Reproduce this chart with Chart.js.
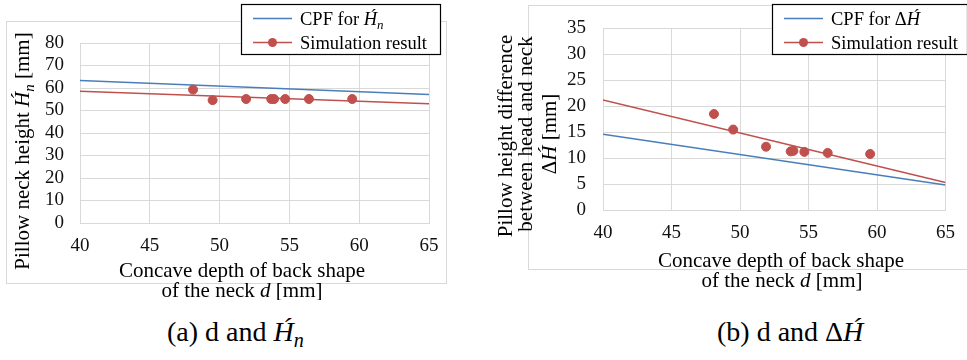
<!DOCTYPE html>
<html>
<head>
<meta charset="utf-8">
<script src="https://cdn.jsdelivr.net/npm/chart.js@4.4.1/dist/chart.umd.min.js"></script>
<style>
  body { margin: 0; background: #fff; }
  #page { position: relative; width: 967px; height: 360px; overflow: hidden; background: #fff; }
  canvas { position: absolute; top: 0; }
  #chart-a { left: 0; }
  #chart-b { left: 480px; }
  .cap { position: absolute; top: 318px; font: 28px "Liberation Serif", "Times New Roman", serif; line-height: 28px; white-space: nowrap; color: #000; }
  .cap sub { font-size: 0.72em; vertical-align: -0.28em; line-height: 0; }
</style>
</head>
<body>
<div id="page">
  <canvas id="chart-a" width="480" height="300"></canvas>
  <canvas id="chart-b" width="487" height="300"></canvas>
  <div class="cap" style="left:167px">(a) d and <i>H&#x301;<sub>n</sub></i></div>
  <div class="cap" style="left:717px">(b) d and &Delta;<i>H&#x301;</i></div>
</div>
<script>
// depth d [mm] of the simulated pillows (shared by both plots)
const depth = [48.1, 49.5, 51.9, 53.7, 53.9, 54.7, 56.4, 59.5];
// (a) pillow neck height
const neckHeightSim = [59.3, 54.6, 55.1, 55.1, 55.1, 55.1, 55.1, 55.1];
// (b) height difference between head and neck
const diffSim = [18.5, 15.5, 12.2, 11.3, 11.4, 11.2, 11.0, 10.8];

// straight lines are given by their values at both ends of the x range
const lineEnds = [40, 65];
const neckHeightCpf = [63.3, 57.1];
const neckHeightTrend = [58.6, 53.0];
const diffCpf = [14.6, 4.8];
const diffTrend = [21.2, 5.3];

const xTicks = [40, 45, 50, 55, 60, 65];
const yTicksA = [0, 10, 20, 30, 40, 50, 60, 70, 80];
const yTicksB = [0, 5, 10, 15, 20, 25, 30, 35];

const BLUE = '#4a7ebb';
const RED = '#c0504d';
const GRID = '#d9d9d9';
const SERIF = '"Liberation Serif", "Times New Roman", serif';

function font(size, italic) {
    return (italic ? 'italic ' : '') + size + 'px ' + SERIF;
}

function toPoints(xs, ys) {
    return xs.map((x, i) => ({ x: x, y: ys[i] }));
}

// draw a row of text pieces with different fonts (used for math symbols)
function drawRuns(ctx, runs, x, y, rot, align) {
    ctx.save();
    ctx.translate(x, y);
    ctx.rotate(rot || 0);
    ctx.textBaseline = 'alphabetic';
    ctx.textAlign = 'left';
    ctx.fillStyle = '#000';
    let total = 0;
    runs.forEach(r => {
        ctx.font = r.font;
        r.w = ctx.measureText(r.text).width;
        total += r.w;
    });
    let px = align === 'left' ? 0 : -total / 2;
    runs.forEach(r => {
        ctx.font = r.font;
        ctx.fillText(r.text, px, r.dy || 0);
        px += r.w;
    });
    ctx.restore();
}

function decorPlugin(o) {
    return {
        id: 'decor',
        beforeDraw(chart) {
            const ctx = chart.ctx;
            ctx.save();
            ctx.fillStyle = '#fff';
            ctx.fillRect(0, 0, chart.width, chart.height);
            ctx.strokeStyle = GRID;
            ctx.lineWidth = 1;
            ctx.strokeRect(o.frame[0] + 0.5, o.frame[1] + 0.5, o.frame[2], o.frame[3]);
            ctx.restore();
        },
        afterDraw(chart) {
            const ctx = chart.ctx;
            // axis titles
            o.xTitle.forEach(t => drawRuns(ctx, t.runs, t.x, t.y, 0));
            o.yTitle.forEach(t => drawRuns(ctx, t.runs, t.x, t.y, -Math.PI / 2));

            // legend box
            const lg = o.legend;
            ctx.save();
            ctx.fillStyle = '#fff';
            ctx.fillRect(lg.x, lg.y, lg.w, lg.h);
            ctx.strokeStyle = '#000';
            ctx.lineWidth = 1.2;
            ctx.strokeRect(lg.x + 0.5, lg.y + 0.5, lg.w, lg.h);
            ctx.lineWidth = 1.5;
            ctx.strokeStyle = BLUE;
            ctx.beginPath();
            ctx.moveTo(lg.x + 12, lg.y + 14.5);
            ctx.lineTo(lg.x + 51, lg.y + 14.5);
            ctx.stroke();
            ctx.strokeStyle = RED;
            ctx.beginPath();
            ctx.moveTo(lg.x + 12, lg.y + 38.5);
            ctx.lineTo(lg.x + 51, lg.y + 38.5);
            ctx.stroke();
            ctx.fillStyle = RED;
            ctx.beginPath();
            ctx.arc(lg.x + 31.5, lg.y + 38.5, 4.5, 0, Math.PI * 2);
            ctx.fill();
            ctx.restore();
            drawRuns(ctx, lg.cpf, lg.x + 59, lg.y + 21, 0, 'left');
            drawRuns(ctx, [{ text: 'Simulation result', font: font(18.5) }], lg.x + 59, lg.y + 45, 0, 'left');
        }
    };
}

function buildChart(id, o) {
    const ctx = document.getElementById(id).getContext('2d');
    const tickFont = { family: SERIF, size: 19 };
    return new Chart(ctx, {
        type: 'scatter',
        data: {
            datasets: [{
                label: 'Simulation result',
                data: toPoints(depth, o.sim),
                backgroundColor: RED,
                borderColor: RED,
                pointRadius: 4.5,
                pointHoverRadius: 4.5
            }, {
                label: 'Simulation trend',
                data: toPoints(lineEnds, o.trend),
                showLine: true,
                borderColor: RED,
                borderWidth: 1.5,
                pointRadius: 0
            }, {
                label: 'CPF',
                data: toPoints(lineEnds, o.cpf),
                showLine: true,
                borderColor: BLUE,
                borderWidth: 1.5,
                pointRadius: 0
            }]
        },
        options: {
            responsive: false,
            animation: false,
            events: [],
            layout: { padding: { left: 0, top: o.area.top, right: o.area.right, bottom: 0 } },
            plugins: {
                legend: { display: false },
                tooltip: { enabled: false }
            },
            scales: {
                x: {
                    type: 'linear',
                    min: xTicks[0],
                    max: xTicks[xTicks.length - 1],
                    afterBuildTicks: s => { s.ticks = xTicks.map(v => ({ value: v })); },
                    afterFit: s => { s.height = o.area.xHeight; },
                    ticks: { font: tickFont, color: '#111', padding: o.xPad, maxRotation: 0, autoSkip: false },
                    grid: { color: GRID, lineWidth: 1, drawTicks: false },
                    border: { color: GRID }
                },
                y: {
                    type: 'linear',
                    min: o.yTicks[0],
                    max: o.yTicks[o.yTicks.length - 1],
                    afterBuildTicks: s => { s.ticks = o.yTicks.map(v => ({ value: v })); },
                    afterFit: s => { s.width = o.area.left; },
                    ticks: { font: tickFont, color: '#111', padding: o.yPad, autoSkip: false },
                    grid: { color: GRID, lineWidth: 1, drawTicks: false },
                    border: { color: GRID }
                }
            }
        },
        plugins: [decorPlugin(o)]
    });
}

const xTitleRuns = [
    [{ text: 'Concave depth of back shape', font: font(21) }],
    [{ text: 'of the neck ', font: font(21) }, { text: 'd', font: font(21, true) }, { text: ' [mm]', font: font(21) }]
];

buildChart('chart-a', {
    sim: neckHeightSim,
    cpf: neckHeightCpf,
    trend: neckHeightTrend,
    yTicks: yTicksA,
    area: { left: 80, top: 43, right: 51, xHeight: 77 },
    xPad: 12,
    yPad: 16,
    frame: [6, 21, 440, 262],
    xTitle: [
        { runs: xTitleRuns[0], x: 242, y: 277 },
        { runs: xTitleRuns[1], x: 242, y: 297 }
    ],
    yTitle: [
        { x: 29, y: 151, runs: [
            { text: 'Pillow neck height ', font: font(21) },
            { text: 'H\u0301', font: font(21, true) },
            { text: 'n', font: font(15, true), dy: 5 },
            { text: ' [mm]', font: font(21) }
        ] }
    ],
    legend: {
        x: 241, y: 4, w: 199, h: 50,
        cpf: [
            { text: 'CPF for ', font: font(18.5) },
            { text: 'H\u0301', font: font(18.5, true) },
            { text: 'n', font: font(13, true), dy: 4 }
        ]
    }
});

buildChart('chart-b', {
    sim: diffSim,
    cpf: diffCpf,
    trend: diffTrend,
    yTicks: yTicksB,
    area: { left: 123, top: 27, right: 11, xHeight: 90 },
    xPad: 12,
    yPad: 17,
    frame: [48, 5, 445, 264],
    xTitle: [
        { runs: xTitleRuns[0], x: 301, y: 267 },
        { runs: xTitleRuns[1], x: 302, y: 287 }
    ],
    yTitle: [
        { x: 32, y: 136, runs: [{ text: 'Pillow height difference', font: font(21) }] },
        { x: 52, y: 134, runs: [{ text: 'between head and neck', font: font(21) }] },
        { x: 76, y: 134, runs: [
            { text: '\u0394', font: font(21) },
            { text: 'H\u0301', font: font(21, true) },
            { text: ' [mm]', font: font(21) }
        ] }
    ],
    legend: {
        x: 292, y: 4, w: 195, h: 50,
        cpf: [
            { text: 'CPF for ', font: font(18.5) },
            { text: '\u0394', font: font(18.5) },
            { text: 'H\u0301', font: font(18.5, true) }
        ]
    }
});
</script>
</body>
</html>
